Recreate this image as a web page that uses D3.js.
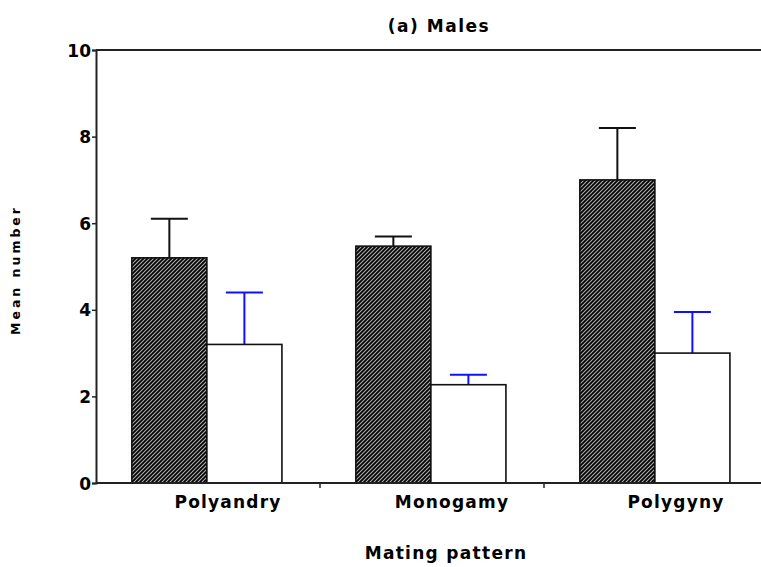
<!DOCTYPE html>
<html>
<head>
<meta charset="utf-8">
<script src="https://cdn.jsdelivr.net/npm/d3@7/dist/d3.min.js"></script>
<style>
  html, body { margin: 0; padding: 0; background: #fff; }
  svg { display: block; }
  text { font-family: "DejaVu Sans", sans-serif; }
</style>
</head>
<body>
<svg id="chart" width="761" height="567"></svg>
<script>
// ---- data ----
const categories = ["Polyandry", "Monogamy", "Polygyny"];
const series = ["hatched", "open"];
const hatchedMeans = [5.2, 5.47, 7.0];
const hatchedUpper = [6.1, 5.69, 8.2];
const openMeans = [3.2, 2.27, 3.0];
const openUpper = [4.4, 2.5, 3.95];
const yTicks = [0, 2, 4, 6, 8, 10];
const titleText = "(a) Males";
const xTitle = "Mating pattern";
const yTitle = "Mean number";

// ---- layout ----
const W = 761, H = 567;
const mLeft = 96, mRight = 768, mTop = 50, mBottom = 483;

const svg = d3.select("#chart");

const defs = svg.append("defs");
const pat = defs.append("pattern")
  .attr("id", "hatch")
  .attr("patternUnits", "userSpaceOnUse")
  .attr("width", 4).attr("height", 4);
pat.append("rect").attr("width", 4).attr("height", 4).attr("fill", "#000");
pat.append("path")
  .attr("d", "M-1,1 l2,-2 M0,4 l4,-4 M3,5 l2,-2")
  .attr("stroke", "#b0b0b0").attr("stroke-width", 1.1);

const x = d3.scaleBand().domain(categories).range([mLeft, mRight]).padding(0);
const bw = x.bandwidth();
const xSub = d3.scaleBand().domain(series).range([bw * 0.16, bw * 0.83]).padding(0);
const y = d3.scaleLinear().domain([0, 10]).range([mBottom, mTop]);

const rows = categories.map((c, i) => ({
  cat: c,
  vals: [
    { s: "hatched", mean: hatchedMeans[i], up: hatchedUpper[i] },
    { s: "open", mean: openMeans[i], up: openUpper[i] }
  ]
}));

// top frame line
svg.append("line")
  .attr("x1", mLeft).attr("x2", W).attr("y1", y(10)).attr("y2", y(10))
  .attr("stroke", "#222").attr("stroke-width", 2);

const groups = svg.append("g").selectAll("g").data(rows).join("g")
  .attr("transform", d => `translate(${x(d.cat)},0)`);

groups.selectAll("g.err").data(d => d.vals).join("g").attr("class", "err")
  .each(function(d) {
    const g = d3.select(this);
    const cx = xSub(d.s) + xSub.bandwidth() / 2;
    const col = d.s === "hatched" ? "#111" : "#1010ff";
    g.append("line").attr("x1", cx).attr("x2", cx)
      .attr("y1", y(d.mean)).attr("y2", y(d.up))
      .attr("stroke", col).attr("stroke-width", 2);
    g.append("line").attr("x1", cx - 18.5).attr("x2", cx + 18.5)
      .attr("y1", y(d.up)).attr("y2", y(d.up))
      .attr("stroke", col).attr("stroke-width", 2);
  });

groups.selectAll("rect").data(d => d.vals).join("rect")
  .attr("x", d => xSub(d.s))
  .attr("width", xSub.bandwidth())
  .attr("y", d => y(d.mean))
  .attr("height", d => y(0) - y(d.mean))
  .attr("fill", d => d.s === "hatched" ? "url(#hatch)" : "#fff")
  .attr("stroke", "#111").attr("stroke-width", 1.6);

// y axis
const yAxis = svg.append("g").attr("transform", `translate(${mLeft},0)`)
  .call(d3.axisLeft(y).tickValues(yTicks).tickSize(4).tickPadding(1).tickFormat(d3.format("d")));
yAxis.select(".domain").attr("stroke", "#222").attr("stroke-width", 2);
yAxis.selectAll(".tick line").attr("stroke", "#222").attr("stroke-width", 1.5);
yAxis.selectAll(".tick text")
  .attr("font-family", "DejaVu Sans").attr("font-weight", "bold")
  .attr("font-size", 17).attr("fill", "#000").attr("dy", "0.36em");

// x axis baseline + ticks at band edges
const xAxis = svg.append("g").attr("transform", `translate(0,${mBottom})`);
xAxis.append("line").attr("x1", mLeft).attr("x2", W).attr("y1", 0).attr("y2", 0)
  .attr("stroke", "#222").attr("stroke-width", 2);
xAxis.selectAll("line.tk").data(categories.slice(1)).join("line").attr("class", "tk")
  .attr("x1", d => x(d)).attr("x2", d => x(d)).attr("y1", 0).attr("y2", 5)
  .attr("stroke", "#222").attr("stroke-width", 1.5);
xAxis.selectAll("text").data(categories).join("text")
  .attr("x", d => x(d) + bw / 2 + 20)
  .attr("y", 25)
  .attr("text-anchor", "middle")
  .attr("font-weight", "bold").attr("font-size", 17).attr("letter-spacing", 1.2)
  .attr("fill", "#000")
  .text(d => d);

// title
svg.append("text").attr("x", 439).attr("y", 32).attr("text-anchor", "middle")
  .attr("font-weight", "bold").attr("font-size", 17).attr("letter-spacing", 1.5)
  .text(titleText);

// x title
svg.append("text").attr("x", 446).attr("y", 559).attr("text-anchor", "middle")
  .attr("font-weight", "bold").attr("font-size", 17).attr("letter-spacing", 1.3)
  .text(xTitle);

// y title
svg.append("text").attr("transform", "translate(20,270) rotate(-90)")
  .attr("text-anchor", "middle").attr("font-size", 12.5).attr("letter-spacing", 3)
  .attr("font-weight", "bold").text(yTitle);
</script>
</body>
</html>
